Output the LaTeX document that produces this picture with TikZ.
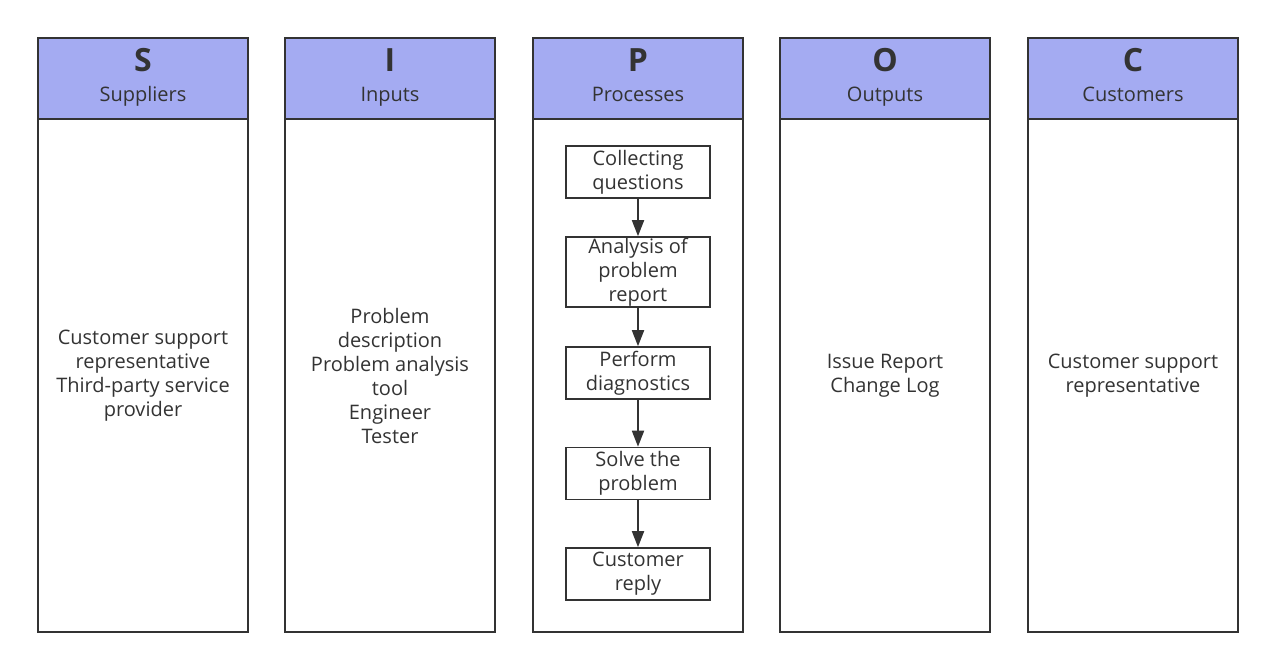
\documentclass[tikz,border=0pt]{standalone}
\usepackage{fontspec}
\setmainfont{Open Sans}
\usetikzlibrary{arrows.meta}
\definecolor{sipochead}{HTML}{A4ABF2}
\definecolor{sipocline}{HTML}{333333}
\newcommand{\headtext}[2]{\rule{0pt}{26pt}{\fontsize{32}{32}\selectfont\bfseries #1}\\[6pt]#2\rule[-11pt]{0pt}{11pt}}

\begin{document}
\begin{tikzpicture}[
  x=1pt, y=-1pt,
  every node/.style={text=sipocline, font=\fontsize{20}{24}\selectfont},
  head/.style={draw=sipocline, fill=sipochead, line width=1.6pt, minimum width=210pt, minimum height=81pt, align=center, inner sep=0pt},
  col/.style={draw=sipocline, line width=1.6pt, minimum width=210pt, minimum height=513pt, align=center, inner sep=0pt},
  stepbox/.style={draw=sipocline, line width=1.6pt, minimum width=144pt, minimum height=52pt, align=center, inner sep=0pt},
  arr/.style={-{Triangle[length=16pt,width=12pt]}, line width=1.8pt, draw=sipocline}
]
\useasboundingbox (0,0) rectangle (1275,670);

% columns
\node[col] (bS) at (143,375.5) {Customer support\\representative\\Third-party service\\provider};
\node[col] (bI) at (390,375.5) {Problem\\description\\Problem analysis\\tool\\Engineer\\Tester};
\node[col] (bP) at (638,375.5) {};
\node[col] (bO) at (885,375.5) {Issue Report\\Change Log};
\node[col] (bC) at (1133,375.5) {Customer support\\representative};

% headers
\node[head] (hS) at (143,78.5) {\headtext{S}{Suppliers}};
\node[head] (hI) at (390,78.5) {\headtext{I}{Inputs}};
\node[head] (hP) at (638,78.5) {\headtext{P}{Processes}};
\node[head] (hO) at (885,78.5) {\headtext{O}{Outputs}};
\node[head] (hC) at (1133,78.5) {\headtext{C}{Customers}};

% process steps
\node[stepbox] (p1) at (638,172) {Collecting\\questions};
\node[stepbox, minimum height=70pt] (p2) at (638,272) {Analysis of\\problem\\report};
\node[stepbox] (p3) at (638,373) {Perform\\diagnostics};
\node[stepbox] (p4) at (638,473.5) {Solve the\\problem};
\node[stepbox] (p5) at (638,574) {Customer\\reply};

\draw[arr] (p1) -- (p2);
\draw[arr] (p2) -- (p3);
\draw[arr] (p3) -- (p4);
\draw[arr] (p4) -- (p5);
\end{tikzpicture}
\end{document}
